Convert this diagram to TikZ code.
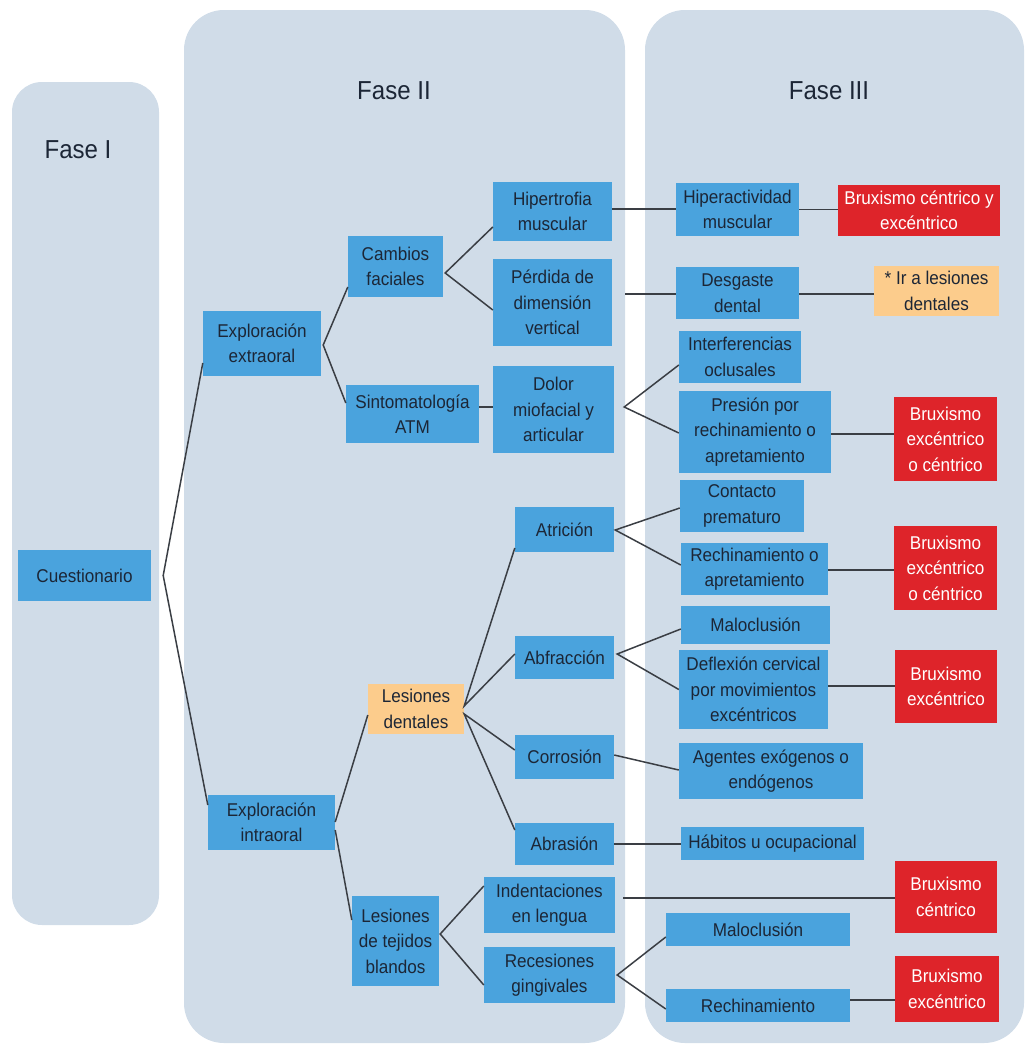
\documentclass[tikz,border=0pt]{standalone}
\usepackage{fontspec}
\setmainfont{Liberation Sans}[FakeStretch=0.925]
\usetikzlibrary{calc}
\definecolor{panelc}{RGB}{208,220,232}
\definecolor{boxblue}{RGB}{74,163,221}
\definecolor{boxorange}{RGB}{252,204,140}
\definecolor{boxred}{RGB}{222,36,42}
\definecolor{txt}{RGB}{28,38,54}
\definecolor{linec}{RGB}{58,62,68}
\begin{document}
\begin{tikzpicture}[x=1pt,y=-1pt,
  panel/.style={fill=panelc},
  phase/.style={text=txt, font=\fontsize{26}{30}\selectfont, inner sep=0pt},
  box/.style={fill=boxblue, text=txt, align=center, inner sep=0pt, font=\fontsize{18.5}{25.5}\selectfont},
  obox/.style={box, fill=boxorange},
  rbox/.style={box, fill=boxred, text=white},
  conn/.style={draw=linec, line width=1.5pt, line join=miter}]
\useasboundingbox (0,0) rectangle (1025,1044);
% panels
\fill[panel, rounded corners=30pt] (12,82) rectangle (159,925);
\fill[panel, rounded corners=40pt] (184,10) rectangle (625,1043);
\fill[panel, rounded corners=40pt] (645,10) rectangle (1024,1043);
\node[phase] (f1) at (78,150) {Fase I};
\node[phase] (f2) at (394,91) {Fase II};
\node[phase] (f3) at (829,91) {Fase III};
% phase I / II nodes
\node[box, minimum width=133pt, minimum height=51pt] (cuest) at (84.5,575.5) {Cuestionario};
\node[box, minimum width=118pt, minimum height=65pt] (extra) at (262,343.5) {Exploración\\extraoral};
\node[box, minimum width=127pt, minimum height=55pt] (intra) at (271.5,822.5) {Exploración\\intraoral};
\node[box, minimum width=95pt, minimum height=61pt] (cambios) at (395.5,266.5) {Cambios\\faciales};
\node[box, minimum width=133pt, minimum height=58pt] (sinto) at (412.5,414) {Sintomatología\\ATM};
\node[box, minimum width=119pt, minimum height=59pt] (hiper) at (552.5,211.5) {Hipertrofia\\muscular};
\node[box, minimum width=119pt, minimum height=87pt] (perdida) at (552.5,302.5) {Pérdida de\\dimensión\\vertical};
\node[box, minimum width=121pt, minimum height=87pt] (dolor) at (553.5,409.5) {Dolor\\miofacial y\\articular};
\node[obox, minimum width=96pt, minimum height=50pt] (ldent) at (416,709) {Lesiones\\dentales};
\node[box, minimum width=87pt, minimum height=90pt] (ltej) at (395.5,941) {Lesiones\\de tejidos\\blandos};
\node[box, minimum width=99pt, minimum height=45pt] (atric) at (564.5,529.5) {Atrición};
\node[box, minimum width=99pt, minimum height=43pt] (abfr) at (564.5,657.5) {Abfracción};
\node[box, minimum width=99pt, minimum height=44pt] (corr) at (564.5,757) {Corrosión};
\node[box, minimum width=99pt, minimum height=42pt] (abras) at (564.5,844) {Abrasión};
\node[box, minimum width=131pt, minimum height=56pt] (indent) at (549.5,905) {Indentaciones\\en lengua};
\node[box, minimum width=131pt, minimum height=56pt] (reces) at (549.5,975) {Recesiones\\gingivales};
% phase III nodes
\node[box, minimum width=123pt, minimum height=53pt] (hiperact) at (737.5,209.5) {Hiperactividad\\muscular};
\node[rbox, minimum width=162pt, minimum height=51pt] (brux1) at (919,210.5) {Bruxismo céntrico y\\excéntrico};
\node[box, minimum width=123pt, minimum height=52pt] (desg) at (737.5,293) {Desgaste\\dental};
\node[obox, minimum width=125pt, minimum height=50pt] (ira) at (936.5,291) {* Ir a lesiones\\dentales};
\node[box, minimum width=122pt, minimum height=52pt] (interf) at (740,357) {Interferencias\\oclusales};
\node[box, minimum width=152pt, minimum height=82pt] (presion) at (755,432) {Presión por\\rechinamiento o\\apretamiento};
\node[rbox, minimum width=103pt, minimum height=84pt] (brux2) at (945.5,439) {Bruxismo\\excéntrico\\o céntrico};
\node[box, minimum width=124pt, minimum height=52pt] (contacto) at (742,506) {Contacto\\prematuro};
\node[box, minimum width=147pt, minimum height=52pt] (rechin) at (754.5,569) {Rechinamiento o\\apretamiento};
\node[rbox, minimum width=103pt, minimum height=84pt] (brux3) at (945.5,568) {Bruxismo\\excéntrico\\o céntrico};
\node[box, minimum width=149pt, minimum height=38pt] (malo1) at (755.5,625) {Maloclusión};
\node[box, minimum width=149pt, minimum height=79pt] (defl) at (753.5,689.5) {Deflexión cervical\\por movimientos\\excéntricos};
\node[rbox, minimum width=102pt, minimum height=73pt] (brux4) at (946,686.5) {Bruxismo\\excéntrico};
\node[box, minimum width=184pt, minimum height=56pt] (agentes) at (771,771) {Agentes exógenos o\\endógenos};
\node[box, minimum width=183pt, minimum height=33pt] (habitos) at (772.5,843.5) {Hábitos u ocupacional};
\node[rbox, minimum width=102pt, minimum height=72pt] (brux5) at (946,897) {Bruxismo\\céntrico};
\node[box, minimum width=184pt, minimum height=33pt] (malo2) at (758,929.5) {Maloclusión};
\node[box, minimum width=184pt, minimum height=33pt] (rechin2) at (758,1005.5) {Rechinamiento};
\node[rbox, minimum width=104pt, minimum height=66pt] (brux6) at (947,989) {Bruxismo\\excéntrico};
% connectors
\coordinate (c0) at ($(cuest.east)+(12,0)$);
\draw[conn] ($(extra.west)+(0,19.5)$) -- (c0) -- ($(intra.west)+(0,-17.5)$);
\coordinate (e0) at ($(extra.east)+(2,1.5)$);
\draw[conn] ($(cambios.west)+(0,20.5)$) -- (e0) -- ($(sinto.west)+(0,-11)$);
\coordinate (k0) at ($(cambios.east)+(2,6.5)$);
\draw[conn] ($(hiper.west)+(0,15.5)$) -- (k0) -- ($(perdida.west)+(0,7.5)$);
\coordinate (s0) at ($(sinto.east)+(0,-7)$);
\draw[conn] (s0) -- (s0 -| dolor.west);
\coordinate (h0) at ($(hiper.east)+(0,-2.5)$);
\draw[conn] (h0) -- (h0 -| hiperact.west);
\coordinate (p0) at ($(perdida.east)+(13,-8.5)$);
\draw[conn] (p0) -- (p0 -| desg.west);
\draw[conn] (hiperact.east) -- (hiperact.east -| brux1.west);
\coordinate (d0) at ($(desg.east)+(0,1)$);
\draw[conn] (d0) -- (d0 -| ira.west);
\coordinate (do0) at ($(dolor.east)+(10,-2.5)$);
\draw[conn] ($(interf.west)+(0,8)$) -- (do0) -- ($(presion.west)+(0,1)$);
\coordinate (pr0) at ($(presion.east)+(0,2)$);
\draw[conn] (pr0) -- (pr0 -| brux2.west);
\draw[conn] ($(ldent.west)+(0,6)$) -- ($(intra.east)+(0,-0.5)$);
\draw[conn] ($(intra.east)+(0,7.5)$) -- ($(ltej.west)+(0,-21)$);
\coordinate (ld1) at ($(ldent.east)+(0,-3)$);
\coordinate (ld2) at ($(ldent.east)+(0,5)$);
\draw[conn] ($(atric.west)+(0,18.5)$) -- (ld1) -- ($(abfr.west)+(0,-3.5)$);
\draw[conn] ($(corr.west)+(0,-7)$) -- (ld2) -- ($(abras.west)+(0,-14)$);
\coordinate (a0) at ($(atric.east)+(1,0.5)$);
\draw[conn] ($(contacto.west)+(0,2)$) -- (a0) -- ($(rechin.west)+(0,-4)$);
\coordinate (r0) at ($(rechin.east)+(0,1)$);
\draw[conn] (r0) -- (r0 -| brux3.west);
\coordinate (ab0) at ($(abfr.east)+(3,-3.5)$);
\draw[conn] ($(malo1.west)+(0,4)$) -- (ab0) -- (defl.west);
\coordinate (df0) at ($(defl.east)+(0,-3.5)$);
\draw[conn] (df0) -- (df0 -| brux4.west);
\draw[conn] ($(corr.east)+(0,-2)$) -- ($(agentes.west)+(0,-1)$);
\draw[conn] (abras.east) -- (abras.east -| habitos.west);
\coordinate (lt0) at ($(ltej.east)+(1,-7)$);
\draw[conn] ($(indent.west)+(0,-19)$) -- (lt0) -- ($(reces.west)+(0,10)$);
\coordinate (in0) at ($(indent.east)+(8,-7)$);
\draw[conn] (in0) -- (in0 -| brux5.west);
\coordinate (re0) at ($(reces.east)+(2,0)$);
\draw[conn] ($(malo2.west)+(0,7.5)$) -- (re0) -- ($(rechin2.west)+(0,3.5)$);
\coordinate (rc0) at ($(rechin2.east)+(0,-5.5)$);
\draw[conn] (rc0) -- (rc0 -| brux6.west);
\end{tikzpicture}
\end{document}
